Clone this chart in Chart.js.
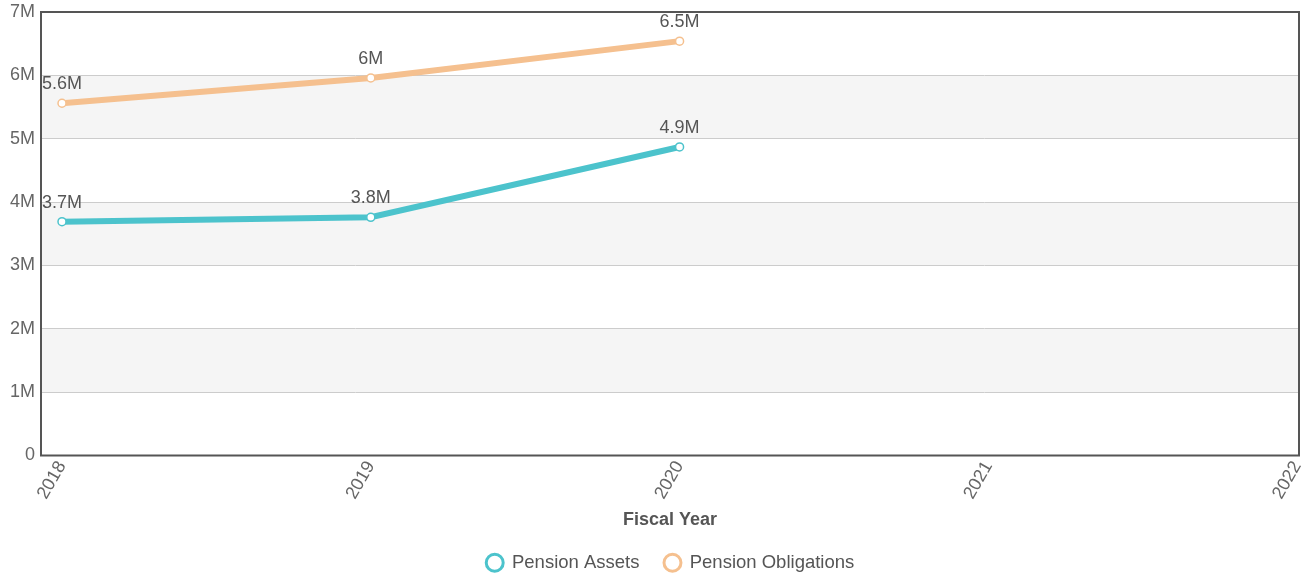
<!DOCTYPE html>
<html>
<head>
<meta charset="utf-8">
<script src="https://cdn.jsdelivr.net/npm/chart.js@4/dist/chart.umd.min.js"></script>
<style>
  html, body { margin: 0; padding: 0; background: #fff; }
  #wrap { width: 1314px; height: 577px; }
</style>
</head>
<body>
<div id="wrap"><canvas id="grafico"></canvas></div>
<script>
// dados
const anos = [2018, 2019, 2020];
const anosEixo = [2018, 2019, 2020, 2021, 2022];
const ativos = [3690000, 3760000, 4870000];       // Pension Assets
const obrigacoes = [5560000, 5960000, 6540000];   // Pension Obligations
const tickY = [0, 1000000, 2000000, 3000000, 4000000, 5000000, 6000000, 7000000];

const corAtivos = '#4cc3cc';
const corObrig = '#f5c08f';
const fonte = '"Liberation Sans", Arial, sans-serif';

function fmtM(v) {
  if (v === 0) return '0';
  let s = (v / 1e6).toFixed(1);
  if (s.endsWith('.0')) s = s.slice(0, -2);
  return s + 'M';
}

// faixas cinza, moldura e rotulos dos pontos
const fundoPlugin = {
  id: 'fundo',
  afterLayout(chart) {
    // legenda centrada na area do grafico, titulo do eixo um pouco mais baixo
    const lg = chart.legend;
    lg.left += 21; lg.right += 21;
    lg.top += 5; lg.bottom += 5;
    chart.scales.x.bottom += 7;
  },
  beforeDraw(chart) {
    const { ctx, chartArea: a, scales: { y } } = chart;
    ctx.save();
    ctx.fillStyle = '#f5f5f5';
    [[1, 2], [3, 4], [5, 6]].forEach(([lo, hi]) => {
      const t = y.getPixelForValue(hi * 1e6);
      const b = y.getPixelForValue(lo * 1e6);
      ctx.fillRect(a.left, t, a.right - a.left, b - t);
    });
    ctx.restore();
  },
  afterDatasetsDraw(chart) {
    const { ctx, chartArea: a } = chart;
    ctx.save();
    ctx.strokeStyle = '#555';
    ctx.lineWidth = 2;
    ctx.strokeRect(a.left, a.top, a.right - a.left, a.bottom - a.top);
    ctx.font = '18px ' + fonte;
    ctx.fillStyle = '#555';
    ctx.textAlign = 'center';
    ctx.textBaseline = 'middle';
    chart.data.datasets.forEach((ds, i) => {
      const meta = chart.getDatasetMeta(i);
      meta.data.forEach((pt, j) => {
        let ty = pt.y - 19;
        if (ty < a.top + 10) ty = pt.y + 15;
        ctx.fillText(fmtM(ds.data[j].y), pt.x, ty);
      });
    });
    ctx.restore();
  }
};

const ctxLinha = document.getElementById('grafico').getContext('2d');
const grafico = new Chart(ctxLinha, {
  type: 'line',
  data: {
    datasets: [{
      label: 'Pension Assets',
      data: anos.map((a, i) => ({ x: a, y: ativos[i] })),
      borderColor: corAtivos,
      backgroundColor: '#fff',
      borderWidth: 6,
      pointRadius: 4,
      pointBorderWidth: 1.5,
      pointBackgroundColor: '#fff',
      pointBorderColor: corAtivos,
      tension: 0
    }, {
      label: 'Pension Obligations',
      data: anos.map((a, i) => ({ x: a, y: obrigacoes[i] })),
      borderColor: corObrig,
      backgroundColor: '#fff',
      borderWidth: 6,
      pointRadius: 4,
      pointBorderWidth: 1.5,
      pointBackgroundColor: '#fff',
      pointBorderColor: corObrig,
      tension: 0
    }]
  },
  options: {
    responsive: true,
    maintainAspectRatio: false,
    animation: false,
    layout: { padding: { top: 12, right: 15, left: 0, bottom: 0 } },
    scales: {
      x: {
        type: 'linear',
        min: 2017.932,
        max: 2022.006,
        afterBuildTicks(scale) { scale.ticks = anosEixo.map(v => ({ value: v })); },
        afterFit(scale) { scale.height = 68; scale.paddingLeft = 0; scale.paddingRight = 0; },
        grid: { display: false, drawTicks: false },
        border: { display: false },
        ticks: {
          color: '#666',
          font: { size: 18, family: fonte },
          minRotation: 60,
          maxRotation: 60,
          padding: 2,
          callback: v => String(v)
        },
        title: {
          display: true,
          text: 'Fiscal Year',
          color: '#555',
          font: { size: 18, weight: 'bold', family: fonte },
          padding: { top: 0, bottom: 0 }
        }
      },
      y: {
        min: 0,
        max: 7000000,
        afterBuildTicks(scale) { scale.ticks = tickY.map(v => ({ value: v })); },
        afterFit(scale) { scale.width = 41; scale.paddingTop = 0; scale.paddingBottom = 0; },
        grid: { color: '#cccccc', lineWidth: 1, drawTicks: false },
        border: { display: false },
        ticks: {
          color: '#666',
          font: { size: 18, family: fonte },
          padding: 6,
          callback: v => fmtM(v)
        }
      }
    },
    plugins: {
      legend: {
        position: 'bottom',
        labels: {
          usePointStyle: true,
          boxWidth: 16,
          boxHeight: 12,
          padding: 25,
          color: '#555',
          font: { size: 18.5, family: fonte },
          generateLabels(chart) {
            return chart.data.datasets.map((ds, i) => ({
              text: ds.label,
              fillStyle: '#fff',
              strokeStyle: ds.borderColor,
              lineWidth: 3,
              pointStyle: 'circle',
              fontColor: '#555',
              datasetIndex: i,
              hidden: false
            }));
          }
        }
      },
      tooltip: { enabled: false }
    }
  },
  plugins: [fundoPlugin]
});
</script>
</body>
</html>
